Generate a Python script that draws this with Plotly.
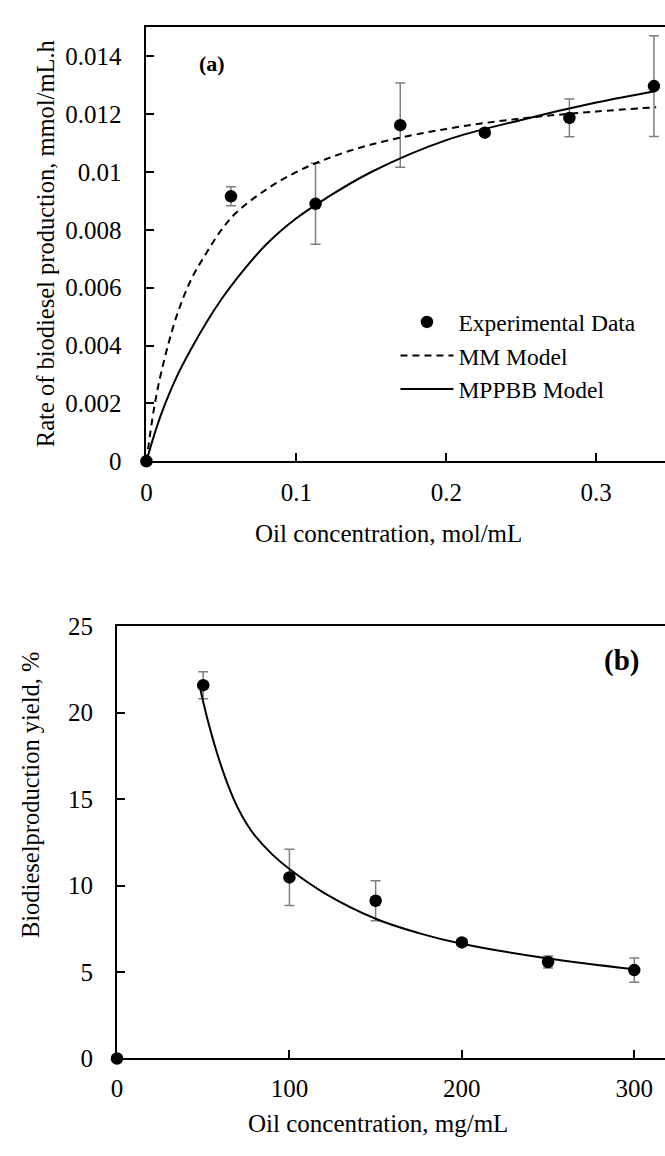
import plotly.graph_objects as go

W, H = 665, 1156
FONT = "Liberation Serif, Times New Roman, serif"

# ---------------- Panel (a) data ----------------
oil_mol = [0, 0.0564, 0.1128, 0.1693, 0.2257, 0.2821, 0.3385]
rate_exp = [0, 0.00916, 0.0089, 0.01162, 0.01136, 0.01187, 0.01297]
rate_err = [0, 0.00033, 0.0014, 0.00146, 0.0001, 0.00065, 0.00174]

model_x = [0, 0.005, 0.01, 0.02, 0.03, 0.04, 0.05, 0.06, 0.08, 0.1, 0.12,
           0.15, 0.2, 0.25, 0.3, 0.34]
mm_rate = [0, 0.0018, 0.0031, 0.0050, 0.0063, 0.0072, 0.0080, 0.0086,
           0.0094, 0.0100, 0.01045, 0.01095, 0.01149, 0.01185, 0.01209, 0.01224]
mppbb_rate = [0, 0.00088, 0.00165, 0.0029, 0.0039, 0.0048, 0.0056, 0.0063,
              0.0075, 0.0084, 0.0091, 0.0100, 0.0111, 0.0118, 0.0124, 0.0128]

a_xticks = [0, 0.1, 0.2, 0.3]
a_xticktext = ["0", "0.1", "0.2", "0.3"]
a_yticks = [0, 0.002, 0.004, 0.006, 0.008, 0.01, 0.012, 0.014]
a_yticktext = ["0", "0.002", "0.004", "0.006", "0.008", "0.01", "0.012", "0.014"]

# ---------------- Panel (b) data ----------------
oil_mg = [0, 50, 100, 150, 200, 250, 300]
yield_exp = [0, 21.58, 10.47, 9.12, 6.71, 5.58, 5.11]
yield_err = [0, 0.78, 1.63, 1.15, 0.2, 0.35, 0.7]

fit_x = [48, 50, 52, 55, 58, 61, 65, 70, 75, 80, 90, 100, 120, 150, 175, 200, 250, 300]
fit_yield = [21.5, 20.62, 19.8, 18.68, 17.66, 16.74, 15.65, 14.5, 13.6, 12.88,
             11.8, 10.95, 9.58, 8.08, 7.25, 6.63, 5.78, 5.16]

b_xticks = [0, 100, 200, 300]
b_yticks = [0, 5, 10, 15, 20, 25]

# ---------------- geometry (pixels) ----------------
def px(x):
    return x / W

def py(y):
    return 1 - y / H

a_left, a_top, a_bottom = 141.7, 14.7, 459.0
b_left, b_top, b_bottom = 112.0, 627.7, 1070.5
a_xmax = (W - a_left) / 151.3 * 0.1
b_xmax = (W - b_left) / 1.74

fig = go.Figure()

err_style = dict(type="data", color="#7f7f7f", thickness=1.5, width=5)

fig.add_trace(go.Scatter(
    x=oil_mol, y=rate_exp, mode="markers", name="Experimental Data",
    marker=dict(color="black", size=12.5),
    error_y=dict(array=rate_err, **err_style),
    cliponaxis=False, xaxis="x", yaxis="y"))
fig.add_trace(go.Scatter(
    x=model_x, y=mm_rate, mode="lines", name="MM Model",
    line=dict(color="black", width=2, dash="7px,5px", shape="spline"),
    xaxis="x", yaxis="y"))
fig.add_trace(go.Scatter(
    x=model_x, y=mppbb_rate, mode="lines", name="MPPBB Model",
    line=dict(color="black", width=2, shape="spline"),
    xaxis="x", yaxis="y"))

fig.add_trace(go.Scatter(
    x=oil_mg, y=yield_exp, mode="markers", showlegend=False,
    marker=dict(color="black", size=12.5),
    error_y=dict(array=yield_err, **err_style),
    cliponaxis=False, xaxis="x2", yaxis="y2"))
fig.add_trace(go.Scatter(
    x=fit_x, y=fit_yield, mode="lines", showlegend=False,
    line=dict(color="black", width=2, shape="spline"),
    xaxis="x2", yaxis="y2"))

axis_common = dict(showline=True, linecolor="black", linewidth=2,
                   ticks="inside", ticklen=8, tickwidth=1.5, tickcolor="black",
                   showgrid=False, zeroline=False,
                   tickfont=dict(family=FONT, size=25, color="black"))

fig.update_layout(
    width=W, height=H,
    margin=dict(l=0, r=0, t=0, b=0),
    paper_bgcolor="white", plot_bgcolor="white",
    font=dict(family=FONT, size=24, color="black"),
    xaxis=dict(domain=[px(a_left), 1], range=[0, a_xmax], anchor="y",
               tickvals=a_xticks, ticktext=a_xticktext, mirror=True,
               ticklabelstandoff=8, **axis_common),
    yaxis=dict(domain=[py(a_bottom), py(a_top)], range=[0, 0.015], anchor="x",
               tickvals=a_yticks, ticktext=a_yticktext,
               ticklabelstandoff=18, **axis_common),
    xaxis2=dict(domain=[px(b_left), 1], range=[0, b_xmax], anchor="y2",
                tickvals=b_xticks, mirror=True,
                ticklabelstandoff=7, **axis_common),
    yaxis2=dict(domain=[py(b_bottom), py(b_top)], range=[0, 25], anchor="x2",
                tickvals=b_yticks,
                ticklabelstandoff=17, **axis_common),
    legend=dict(x=px(393), y=py(294), xanchor="left", yanchor="top",
                bgcolor="rgba(0,0,0,0)", itemwidth=53,
                font=dict(family=FONT, size=23.5, color="black"),
                tracegroupgap=0),
    showlegend=True,
)

def ann(text, x, y, size=25, angle=0, bold=False):
    fig.add_annotation(text=f"<b>{text}</b>" if bold else text,
                       x=px(x), y=py(y), xref="paper", yref="paper",
                       xanchor="center", yanchor="middle", showarrow=False,
                       textangle=angle,
                       font=dict(family=FONT, size=size, color="black"))

ann("Rate of biodiesel production, mmol/mL.h", 40, 236, size=24.5, angle=-90)
ann("Oil concentration, mol/mL", 386, 533)
ann("Biodieselproduction yield, %", 25, 801, size=24.5, angle=-90)
ann("Oil concentration, mg/mL", 375, 1137)
ann("(a)", 208, 52, size=22, bold=True)
ann("(b)", 621, 663, size=29, bold=True)

fig.write_html("out.html")
